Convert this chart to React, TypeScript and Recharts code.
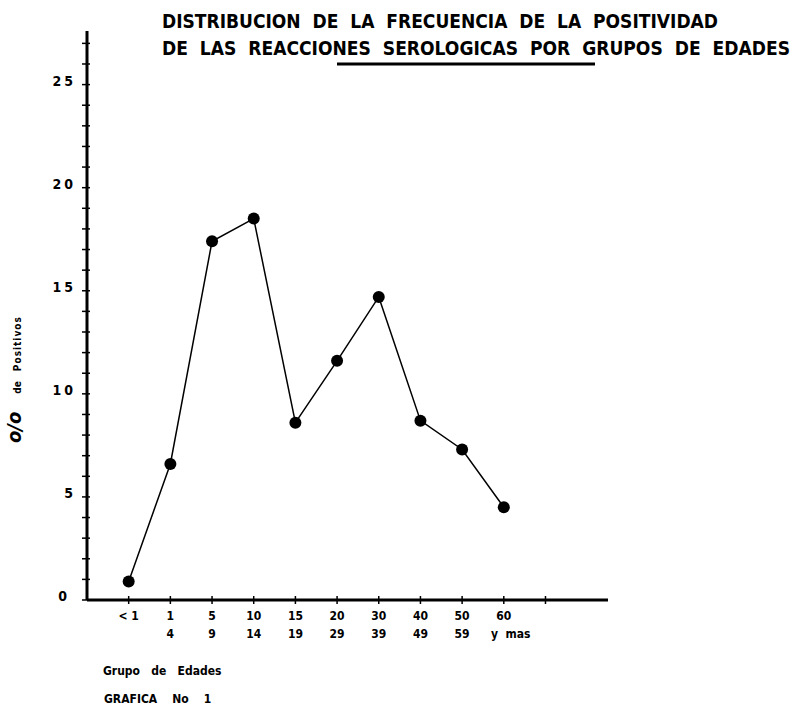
import { Line, LineChart, XAxis, YAxis } from "recharts";

// grupos de edad (dos renglones por etiqueta) y % de positivos
const grupoDesde = ["< 1", "1", "5", "10", "15", "20", "30", "40", "50", "60", ""];
const grupoHasta = ["", "4", "9", "14", "19", "29", "39", "49", "59", "y\u00a0\u00a0mas", ""];
const pctPositivos = [0.9, 6.6, 17.4, 18.5, 8.6, 11.6, 14.7, 8.7, 7.3, 4.5];
const xTicks = [0, 1, 2, 3, 4, 5, 6, 7, 8, 9, 10];
const yTicks = [0, 1, 2, 3, 4, 5, 6, 7, 8, 9, 10, 11, 12, 13, 14, 15, 16, 17, 18, 19, 20, 21, 22, 23, 24, 25, 26, 27];
const yLabels = [0, 5, 10, 15, 20, 25];

const data = pctPositivos.map((v, i) => ({ grupo: i, v }));

const FONT = '"DejaVu Sans Condensed", "Liberation Sans Narrow", "Arial Narrow", sans-serif';
const AXIS_X = 87;
const AXIS_Y = 600;
const sp = (s: string) => s.replace(/ /g, "\u00a0");

function XTick(props: any) {
  const { x, payload } = props;
  const i = payload.value as number;
  return (
    <g>
      <line x1={x} x2={x} y1={AXIS_Y - 4} y2={AXIS_Y + 4} stroke="#000" strokeWidth={1.5} />
      <text x={x} y={620} textAnchor="middle" fontSize={12} fontWeight="bold" fontFamily={FONT} fill="#000">
        {grupoDesde[i]}
      </text>
      <text x={i === 9 ? x + 7 : x} y={638} textAnchor="middle" fontSize={12} fontWeight="bold" fontFamily={FONT} fill="#000">
        {grupoHasta[i]}
      </text>
    </g>
  );
}

function YTick(props: any) {
  const { y, payload } = props;
  const v = payload.value as number;
  const show = yLabels.includes(v);
  return (
    <g>
      <line x1={AXIS_X - 5} x2={AXIS_X + 3} y1={y} y2={y} stroke="#000" strokeWidth={1.5} />
      {show && (
        <text
          x={v === 0 ? 70 : 76}
          y={y + 1}
          textAnchor="end"
          fontSize={14}
          fontWeight="bold"
          fontFamily={FONT}
          style={{ letterSpacing: 3 }}
          fill="#000"
        >
          {v}
        </text>
      )}
    </g>
  );
}

export default function App() {
  return (
    <div style={{ position: "absolute", left: 0, top: 0, width: 803, height: 711, background: "#fff" }}>
      <LineChart width={803} height={711} data={data} margin={{ top: 31, right: 195, bottom: 51, left: 0 }}>
        <XAxis
          dataKey="grupo"
          type="number"
          domain={[-1, 11.5]}
          ticks={xTicks}
          interval={0}
          height={60}
          tickLine={false}
          axisLine={{ stroke: "#000", strokeWidth: 3 }}
          tick={<XTick />}
        />
        <YAxis
          type="number"
          domain={[0, 27.6]}
          ticks={yTicks}
          interval={0}
          width={87}
          tickLine={false}
          axisLine={{ stroke: "#000", strokeWidth: 3 }}
          tick={<YTick />}
        />
        <Line
          type="linear"
          dataKey="v"
          stroke="#000"
          strokeWidth={1.5}
          dot={{ r: 6, fill: "#000", stroke: "#000", strokeWidth: 0 }}
          isAnimationActive={false}
        />
      </LineChart>
      <svg width={803} height={711} style={{ position: "absolute", left: 0, top: 0, pointerEvents: "none" }}>
        <g fontFamily={FONT} fontWeight="bold" fill="#000">
          <text x={162} y={28} fontSize={20} textLength={556} lengthAdjust="spacingAndGlyphs">
            {sp("DISTRIBUCION  DE  LA  FRECUENCIA  DE  LA  POSITIVIDAD")}
          </text>
          <text x={162} y={55} fontSize={20} textLength={628} lengthAdjust="spacingAndGlyphs">
            {sp("DE  LAS  REACCIONES  SEROLOGICAS  POR  GRUPOS  DE  EDADES")}
          </text>
          <text transform="rotate(-90 21 443)" x={21} y={443}>
            <tspan fontSize={20} fontStyle="italic">o/o</tspan>
            <tspan dx={18} fontSize={10}>de</tspan>
            <tspan dx={10} fontSize={10} style={{ letterSpacing: 1 }}>Positivos</tspan>
          </text>
          <text x={103} y={675} fontSize={12}>
            {sp("Grupo   de   Edades")}
          </text>
          <text x={104} y={703} fontSize={12}>
            {sp("GRAFICA    No    1")}
          </text>
        </g>
        <line x1={337} x2={595} y1={64} y2={64} stroke="#000" strokeWidth={3} />
      </svg>
    </div>
  );
}
